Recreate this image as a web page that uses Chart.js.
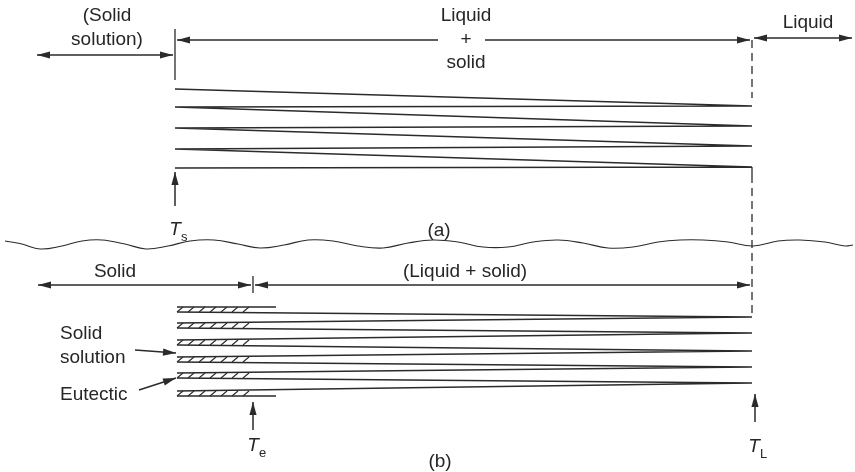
<!DOCTYPE html>
<html>
<head>
<meta charset="utf-8">
<script src="https://cdn.jsdelivr.net/npm/chart.js@4/dist/chart.umd.min.js"></script>
<style>
html,body{margin:0;padding:0;background:#fff;}
canvas{display:block;}
</style>
</head>
<body>
<canvas id="c" width="855" height="472"></canvas>
<script>
// ---- Diagram data (diagram units) ----
// Panel (a): dendrite boundaries in the liquid + solid zone
const aSolidus = [[175, 29], [175, 80]];
const aLeftY  = [89, 107, 128, 149, 168];   // boundary heights at Ts
const aRightY = [106, 126, 146, 167];       // boundary heights at TL
const xTs = 175, xTL = 752;

// Panel (b): cells with solid-solution cores and eutectic
const bBarTop    = [307, 323, 340, 357, 373, 391];
const bBarBottom = [312, 328, 345, 362, 378, 396];
const bRightY    = [317, 333, 351, 367, 383];
const xBarStart = 177, xTe = 252, xCellEnd = 276;
const hatchX = [177, 188, 199, 210, 221, 232, 243];

// Dashed liquidus line
const liquidusDash = [[[752, 40], [752, 98]], [[752, 175], [752, 317]]];

// Broken wavy separator
const wave = [[5,241],[22,244],[40,249],[62,246],[82,241],[102,240],[125,244],[146,249],[168,246],[190,241],
  [214,240],[238,244],[260,248],[284,245],[308,240],[333,241],[358,246],[383,248],[408,243],[433,240],
  [458,242],[483,247],[508,247],[533,242],[558,240],[583,243],[608,248],[633,247],[658,242],[680,240],
  [703,240],[728,242],[753,246],[778,241],[800,240],[825,242],[845,246],[853,245]];

// Arrows: from, to, heads ('both' or 'end')
const arrows = [
  {from: [37, 55],   to: [173, 55],  heads: 'both'},
  {from: [177, 40],  to: [750, 40],  heads: 'both', gap: [438, 485]},
  {from: [754, 38],  to: [852, 38],  heads: 'both'},
  {from: [38, 285],  to: [251, 285], heads: 'both'},
  {from: [255, 285], to: [750, 285], heads: 'both'},
  {from: [175, 206], to: [175, 172], heads: 'end'},
  {from: [253, 430], to: [253, 402], heads: 'end'},
  {from: [755, 422], to: [755, 394], heads: 'end'},
  {from: [135, 350], to: [176, 353], heads: 'end'},
  {from: [139, 390], to: [176, 378], heads: 'end'}
];
const ticks = [[[253, 276], [253, 293]]];

// Text labels
const labels = [
  {t: '(Solid', x: 107, y: 16}, {t: 'solution)', x: 107, y: 40},
  {t: 'Liquid', x: 466, y: 16}, {t: '+', x: 466, y: 40}, {t: 'solid', x: 466, y: 63},
  {t: 'Liquid', x: 808, y: 23},
  {t: '(a)', x: 439, y: 231},
  {t: 'Solid', x: 115, y: 272}, {t: '(Liquid + solid)', x: 465, y: 272},
  {t: 'Solid', x: 60, y: 334, a: 'left'}, {t: 'solution', x: 60, y: 358, a: 'left'},
  {t: 'Eutectic', x: 60, y: 395, a: 'left'},
  {t: '(b)', x: 440, y: 462}
];
const symbols = [
  {t: 'T', s: 's', x: 178, y: 230},
  {t: 'T', s: 'e', x: 256, y: 446},
  {t: 'T', s: 'L', x: 757, y: 447}
];

// ---- Build datasets ----
function segs(list) {
  const out = [];
  list.forEach((s, i) => {
    if (i) out.push({x: null, y: null});
    s.forEach(p => out.push({x: p[0], y: p[1]}));
  });
  return out;
}

const aSegs = [aSolidus, [[xTs, aLeftY[0]], [xTL, aRightY[0]]]];
for (let i = 1; i < aLeftY.length; i++) {
  aSegs.push([[xTs, aLeftY[i]], [xTL, aRightY[i - 1]]]);
  if (i < aRightY.length) aSegs.push([[xTs, aLeftY[i]], [xTL, aRightY[i]]]);
}
aSegs.push([[xTL, aRightY[aRightY.length - 1]], [xTL, 175]]);

const bSegs = [[[xBarStart, bBarTop[0]], [xCellEnd, bBarTop[0]]],
  [[xBarStart, bBarBottom[bBarBottom.length - 1]], [xCellEnd, bBarBottom[bBarBottom.length - 1]]]];
for (let i = 0; i < bRightY.length; i++) {
  bSegs.push([[xBarStart, bBarBottom[i]], [xTL, bRightY[i]]]);
  bSegs.push([[xBarStart, bBarTop[i + 1]], [xTL, bRightY[i]]]);
}
const hatchSegs = [];
bBarTop.forEach((top, k) => {
  const bot = bBarBottom[k];
  hatchX.forEach(x => hatchSegs.push([[x, bot], [x + 6, top]]));
});

const shaftSegs = [];
arrows.forEach(a => {
  if (a.gap) {
    shaftSegs.push([a.from, [a.gap[0], a.from[1]]]);
    shaftSegs.push([[a.gap[1], a.to[1]], a.to]);
  } else shaftSegs.push([a.from, a.to]);
});

const INK = '#2b2b2b';
const base = {showLine: true, pointRadius: 0, borderColor: INK, borderWidth: 1.3, tension: 0, spanGaps: false, fill: false};

const datasets = [
  Object.assign({}, base, {label: 'panel a', data: segs(aSegs)}),
  Object.assign({}, base, {label: 'panel b', data: segs(bSegs)}),
  Object.assign({}, base, {label: 'hatch', borderWidth: 1.1, data: segs(hatchSegs)}),
  Object.assign({}, base, {label: 'liquidus', borderWidth: 1.3, borderDash: [8, 5], data: segs(liquidusDash)}),
  Object.assign({}, base, {label: 'wave', borderWidth: 1.1, tension: 0.4, data: wave.map(p => ({x: p[0], y: p[1]}))}),
  Object.assign({}, base, {label: 'arrows', borderWidth: 1.5, data: segs(shaftSegs)}),
  Object.assign({}, base, {label: 'ticks', borderWidth: 1.3, data: segs(ticks)})
];

// ---- Plugin: arrowheads and text, positioned through the scales ----
const diagramPlugin = {
  id: 'diagram',
  afterDatasetsDraw(chart) {
    const ctx = chart.ctx, xs = chart.scales.x, ys = chart.scales.y;
    const P = p => [xs.getPixelForValue(p[0]), ys.getPixelForValue(p[1])];
    function head(tip, tail) {
      const [tx, ty] = P(tip), [bx, by] = P(tail);
      const ang = Math.atan2(ty - by, tx - bx), L = 13, W = 3.6;
      ctx.beginPath();
      ctx.moveTo(tx, ty);
      ctx.lineTo(tx - L * Math.cos(ang) + W * Math.sin(ang), ty - L * Math.sin(ang) - W * Math.cos(ang));
      ctx.lineTo(tx - L * Math.cos(ang) - W * Math.sin(ang), ty - L * Math.sin(ang) + W * Math.cos(ang));
      ctx.closePath();
      ctx.fill();
    }
    ctx.save();
    ctx.fillStyle = INK;
    arrows.forEach(a => {
      head(a.to, a.from);
      if (a.heads === 'both') head(a.from, a.to);
    });
    ctx.fillStyle = '#262626';
    ctx.textBaseline = 'middle';
    ctx.font = '19px "Liberation Sans", Arial, sans-serif';
    labels.forEach(l => {
      ctx.textAlign = l.a || 'center';
      const [x, y] = P([l.x, l.y]);
      ctx.fillText(l.t, x, y);
    });
    symbols.forEach(s => {
      const [x, y] = P([s.x, s.y]);
      ctx.textAlign = 'center';
      ctx.font = 'italic 19px "Liberation Sans", Arial, sans-serif';
      ctx.fillText(s.t, x - 3, y);
      ctx.textAlign = 'left';
      ctx.font = '13px "Liberation Sans", Arial, sans-serif';
      ctx.fillText(s.s, x + 3, y + 7);
    });
    ctx.restore();
  }
};

new Chart(document.getElementById('c'), {
  type: 'scatter',
  data: {datasets},
  options: {
    responsive: false,
    animation: false,
    events: [],
    layout: {padding: 0},
    plugins: {legend: {display: false}, tooltip: {enabled: false}},
    scales: {
      x: {type: 'linear', min: 0, max: 855, display: false},
      y: {type: 'linear', min: 0, max: 472, reverse: true, display: false}
    }
  },
  plugins: [diagramPlugin]
});
</script>
</body>
</html>
